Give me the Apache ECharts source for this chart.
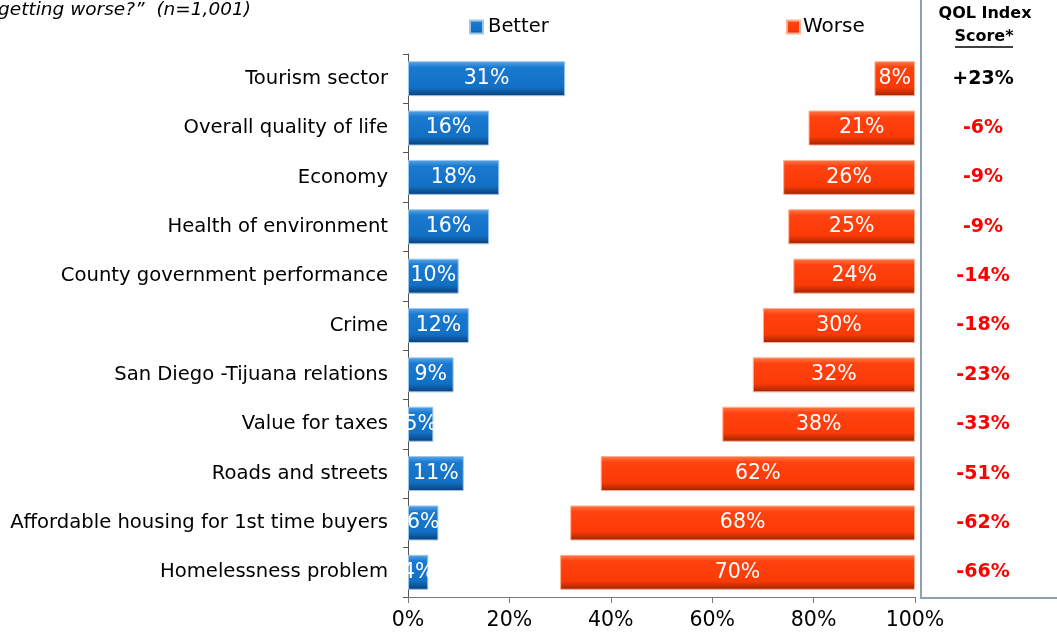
<!DOCTYPE html>
<html><head><meta charset="utf-8">
<script src="https://cdn.jsdelivr.net/npm/echarts@6/dist/echarts.min.js"></script>
<style>html,body{margin:0;padding:0;background:#fff}#c{width:1057px;height:634px}</style>
</head><body><div id="c"></div>
<script>
const categories = ["Tourism sector","Overall quality of life","Economy","Health of environment","County government performance","Crime","San Diego -Tijuana relations","Value for taxes","Roads and streets","Affordable housing for 1st time buyers","Homelessness problem"];
const better = [31,16,18,16,10,12,9,5,11,6,4];
const worse = [8,21,26,25,24,30,32,38,62,68,70];
const qol = ["+23%","-6%","-9%","-9%","-14%","-18%","-23%","-33%","-51%","-62%","-66%"];
const xTicks = [0,20,40,60,80,100];

const FONT = "DejaVu Sans, sans-serif";
const blueGrad = new echarts.graphic.LinearGradient(0,0,0,1,[
  {offset:0,color:'#5aa6e6'},{offset:0.18,color:'#1a7ad0'},{offset:0.75,color:'#1270c4'},{offset:1,color:'#0a3f78'}]);
const redGrad = new echarts.graphic.LinearGradient(0,0,0,1,[
  {offset:0,color:'#ff7a4a'},{offset:0.18,color:'#ff4210'},{offset:0.75,color:'#fb3a06'},{offset:1,color:'#9c2400'}]);

const chart = echarts.init(document.getElementById('c'));
chart.setOption({
  animation:false,
  textStyle:{fontFamily:FONT},
  grid:{left:408,right:142,top:54,bottom:37},
  legend:[
    {data:['Better'],left:464,top:12,icon:'rect',itemWidth:13,itemHeight:13,itemGap:4,
     textStyle:{fontSize:19.5,color:'#000',fontFamily:FONT,padding:[0,0,0,0]}},
    {data:['Worse'],left:781,top:12,icon:'rect',itemWidth:13,itemHeight:13,
     textStyle:{fontSize:20,color:'#000',fontFamily:FONT,padding:[0,0,0,-2]}}
  ],
  xAxis:{type:'value',min:0,max:100,interval:20,
    axisLine:{show:true,lineStyle:{color:'#777',width:1}},
    axisTick:{show:true,length:6,lineStyle:{color:'#777'}},
    splitLine:{show:false},
    axisLabel:{formatter:v=>xTicks.includes(v)?v+'%':'',fontSize:20.5,color:'#000',margin:13,fontFamily:FONT}},
  yAxis:[
    {type:'category',data:categories,inverse:true,
     axisLine:{show:true,lineStyle:{color:'#555',width:1}},
     axisTick:{show:true,length:5,lineStyle:{color:'#555'}},
     axisLabel:{fontSize:19.6,color:'#000',margin:20,fontFamily:FONT}},
    {type:'category',data:qol,inverse:true,position:'right',
     axisLine:{show:false},axisTick:{show:false},
     axisLabel:{margin:68,align:'center',fontFamily:FONT,
       formatter:v=>v.startsWith('+')?'{p|'+v+'}':'{n|'+v+'}',
       rich:{p:{fontSize:19,fontWeight:'bold',color:'#000',fontFamily:FONT},
             n:{fontSize:19,fontWeight:'bold',color:'#ff0000',fontFamily:FONT}}}}
  ],
  series:[
    {name:'Better',type:'bar',data:better,barWidth:35,barGap:'-100%',
     itemStyle:{color:blueGrad,borderColor:'#9cc8ee',borderWidth:1},
     label:{show:true,position:'inside',formatter:p=>p.value+'%',color:'#fff',fontSize:20.5,fontFamily:FONT}},
    {name:'base',type:'bar',stack:'w',data:worse.map(w=>100-w),barWidth:35,silent:true,
     itemStyle:{color:'rgba(0,0,0,0)'},label:{show:false}},
    {name:'Worse',type:'bar',stack:'w',data:worse,barWidth:35,
     itemStyle:{color:redGrad,borderColor:'#ffb090',borderWidth:1},
     label:{show:true,position:'inside',formatter:p=>p.value+'%',color:'#fff',fontSize:20.5,fontFamily:FONT}}
  ],
  graphic:[
    {type:'text',x:251,y:1,style:{text:'getting worse?”  (n=1,001)',font:'italic 18.5px '+FONT,fill:'#000',align:'right'}},
    {type:'rect',shape:{x:921,y:-3,width:150,height:601},style:{fill:'none',stroke:'#8da1b5',lineWidth:2}},
    {type:'text',x:985,y:6,style:{text:'QOL Index',font:'bold 16px '+FONT,fill:'#000',align:'center'}},
    {type:'text',x:984,y:29,style:{text:'Score*',font:'bold 16px '+FONT,fill:'#000',align:'center'}},
    {type:'line',shape:{x1:955,y1:47,x2:1013,y2:47},style:{stroke:'#000',lineWidth:1.5}}
  ]
});
</script></body></html>
